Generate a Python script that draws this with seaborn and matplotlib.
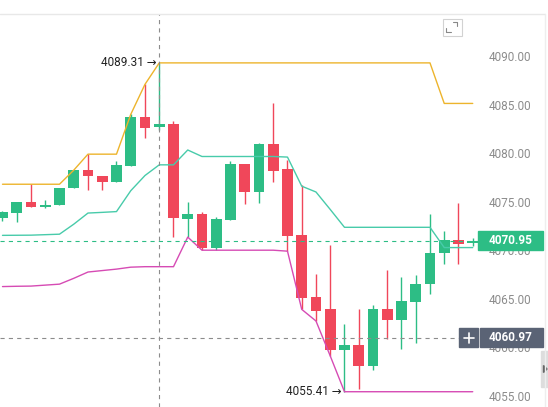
# Candlestick chart with a 20-period price channel (upper / middle / lower)
# library used: seaborn on top of matplotlib

import numpy as np
import pandas as pd
import matplotlib
matplotlib.use("Agg")
import matplotlib.pyplot as plt
import seaborn as sns
from matplotlib.patches import Rectangle, Polygon
from matplotlib.transforms import blended_transform_factory

# candle values
opens = [4073.3, 4073.85, 4074.95, 4074.5, 4074.7, 4076.45, 4078.25, 4077.65, 4077.05, 4078.7,
         4083.75, 4082.65, 4083.0, 4073.25, 4073.7, 4070.2, 4073.15, 4078.85, 4076.0, 4080.9,
         4078.35, 4071.55, 4065.2, 4063.95, 4059.7, 4060.25, 4058.1, 4063.95, 4062.8, 4064.7,
         4066.5, 4069.75, 4071.0, 4070.7]
highs = [4074.0, 4075.0, 4076.8, 4075.15, 4076.45, 4078.25, 4079.9, 4077.7, 4079.2, 4084.0,
         4087.1, 4089.31, 4083.35, 4074.95, 4073.9, 4073.4, 4079.2, 4078.9, 4081.0, 4085.13,
         4079.3, 4076.7, 4067.5, 4070.5, 4062.35, 4063.9, 4064.3, 4067.95, 4067.25, 4067.45,
         4073.7, 4072.0, 4074.9, 4071.3]
lows = [4073.0, 4072.9, 4074.45, 4074.4, 4074.65, 4076.4, 4076.2, 4076.25, 4077.0, 4078.65,
        4081.6, 4082.4, 4071.35, 4071.35, 4070.0, 4070.05, 4073.1, 4074.75, 4074.9, 4077.0,
        4069.9, 4063.9, 4062.7, 4059.1, 4055.41, 4055.7, 4057.7, 4060.85, 4059.8, 4060.4,
        4065.45, 4068.55, 4068.6, 4070.4]
closes = [4073.9, 4074.95, 4074.5, 4074.7, 4076.45, 4078.25, 4077.65, 4077.05, 4078.75, 4083.75,
          4082.6, 4083.0, 4073.3, 4073.7, 4070.2, 4073.2, 4078.85, 4076.0, 4080.9, 4078.2,
          4071.5, 4065.1, 4063.75, 4059.7, 4060.25, 4058.1, 4063.9, 4062.8, 4064.75, 4066.5,
          4069.7, 4071.05, 4070.6, 4070.95]

# channel lines
upper = [4076.8, 4076.8, 4076.8, 4076.8, 4076.8, 4078.25, 4079.9, 4079.9, 4079.9, 4084.0,
         4087.1, 4089.31, 4089.31, 4089.31, 4089.31, 4089.31, 4089.31, 4089.31, 4089.31, 4089.31,
         4089.31, 4089.31, 4089.31, 4089.31, 4089.31, 4089.31, 4089.31, 4089.31, 4089.31, 4089.31,
         4089.31, 4085.13, 4085.13, 4085.13]
middle = [4071.53, 4071.54, 4071.55, 4071.6, 4071.65, 4072.68, 4073.83, 4073.9, 4073.98, 4076.13,
          4077.7, 4078.8, 4078.8, 4080.33, 4079.66, 4079.66, 4079.66, 4079.66, 4079.66, 4079.66,
          4079.6, 4076.6, 4076.0, 4074.2, 4072.36, 4072.36, 4072.36, 4072.36, 4072.36, 4072.36,
          4072.36, 4070.27, 4070.27, 4070.27]
lower = [4066.25, 4066.28, 4066.3, 4066.4, 4066.5, 4067.1, 4067.75, 4067.9, 4068.05, 4068.25,
         4068.3, 4068.3, 4068.3, 4071.35, 4070.0, 4070.0, 4070.0, 4070.0, 4070.0, 4070.0,
         4069.9, 4063.9, 4062.7, 4059.1, 4055.41, 4055.41, 4055.41, 4055.41, 4055.41, 4055.41,
         4055.41, 4055.41, 4055.41, 4055.41]

yticks = [4055, 4060, 4065, 4070, 4075, 4080, 4085, 4090]
last_price = 4070.95
cross_price = 4060.97
cross_idx = 11
max_idx, max_val = 11, 4089.31
min_idx, min_val = 24, 4055.41

GREEN = "#2DBD85"
RED = "#F0475A"
ORANGE = "#EDB42C"
TEAL = "#48CBAA"
MAGENTA = "#D64BB4"
SLATE = "#5A6375"
GRAY = "#8C8C8C"

sns.set_style("white")
plt.rcParams['font.family'] = ['Roboto', 'DejaVu Sans']
plt.rcParams['lines.scale_dashes'] = False

df = pd.DataFrame({'idx': np.arange(len(opens)), 'open': opens, 'high': highs,
                   'low': lows, 'close': closes,
                   'upper': upper, 'middle': middle, 'lower': lower})
df['up'] = df['close'] >= df['open']
df['color'] = np.where(df['up'], GREEN, RED)
df['bottom'] = df[['open', 'close']].min(axis=1)
df['body'] = (df['close'] - df['open']).abs().clip(lower=0.12)

fig = plt.figure(figsize=(5.48, 4.07), dpi=100)
ax = fig.add_axes([0, 0, 480 / 548, 393 / 407])

# candles
ax.vlines(df['idx'], df['low'], df['high'], colors=df['color'], lw=1.0, zorder=2)
ax.bar(df['idx'], df['body'], bottom=df['bottom'], width=0.74, color=df['color'],
       linewidth=0, zorder=2.2)

# channel
sns.lineplot(data=df, x='idx', y='upper', color=ORANGE, lw=1.0, ax=ax, zorder=3)
sns.lineplot(data=df, x='idx', y='middle', color=TEAL, lw=1.0, ax=ax, zorder=3)
sns.lineplot(data=df, x='idx', y='lower', color=MAGENTA, lw=1.0, ax=ax, zorder=3)

ax.set_xlim(-0.175, 33.51)
ax.set_ylim(4053.835, 4094.35)
ax.set_xlabel('')
ax.set_ylabel('')
ax.set_xticks([])
ax.set_yticks(yticks)
ax.set_yticklabels([f"{v:.2f}" for v in yticks])
ax.yaxis.tick_right()
ax.tick_params(axis='y', length=0, pad=6, labelsize=8.5, labelcolor=GRAY)
for s in ax.spines.values():
    s.set_visible(False)

# crosshair and last price lines
ax.axvline(cross_idx, color=GRAY, lw=0.8, ls=(0, (3, 3)), zorder=4)
ax.axhline(cross_price, xmin=0, xmax=459 / 480, color=GRAY, lw=0.8, ls=(0, (3, 3)), zorder=4)
ax.axhline(last_price, xmin=0, xmax=478 / 480, color=GREEN, lw=0.8, ls=(0, (3, 3)), zorder=4)

# high / low markers
ax.annotate(f"{max_val:.2f} →", xy=(max_idx, max_val), xytext=(-2, 0),
            textcoords='offset points', ha='right', va='center', fontsize=8.5, color='#222222')
ax.annotate(f"{min_val:.2f} →", xy=(min_idx, min_val), xytext=(-2, 0),
            textcoords='offset points', ha='right', va='center', fontsize=8.5, color='#222222')

# price tags on the axis
tr = blended_transform_factory(ax.transAxes, ax.transData)
h = 19 / 9.7
ax.add_patch(Rectangle((478 / 480, last_price - h / 2), 65 / 480, h, transform=tr,
                       color=GREEN, clip_on=False, zorder=6))
ax.text(511 / 480, last_price, f"{last_price:.2f}", transform=tr, ha='center', va='center',
        color='white', fontsize=8.5, fontweight='bold', clip_on=False, zorder=7)
ax.add_patch(Rectangle((480 / 480, cross_price - h / 2), 63 / 480, h, transform=tr,
                       color=SLATE, clip_on=False, zorder=6))
ax.add_patch(Rectangle((459 / 480, cross_price - h / 2), 19 / 480, h, transform=tr,
                       color=SLATE, clip_on=False, zorder=6))
ax.text(511 / 480, cross_price, f"{cross_price:.2f}", transform=tr, ha='center', va='center',
        color='white', fontsize=8.5, fontweight='bold', clip_on=False, zorder=7)
ax.plot([463.5 / 480, 473.5 / 480], [cross_price, cross_price], transform=tr, color='white',
        lw=1.2, clip_on=False, zorder=7)
ax.plot([468.5 / 480, 468.5 / 480], [cross_price - 0.52, cross_price + 0.52], transform=tr,
        color='white', lw=1.2, clip_on=False, zorder=7)

# frame bits in pixel coords
ov = fig.add_axes([0, 0, 1, 1], zorder=5)
ov.set_xlim(0, 548)
ov.set_ylim(407, 0)
ov.axis('off')
ov.patch.set_alpha(0)
ov.plot([0, 545], [14, 14], color='#E8E8E8', lw=1.0)
ov.plot([545, 545], [14, 407], color='#EEEEEE', lw=1.0)
ov.add_patch(Rectangle((541, 351), 7, 36, color='#DDDDDD'))
ov.add_patch(Polygon([[543.5, 365.5], [543.5, 372.5], [547, 369]], color='#666666'))
ov.add_patch(Rectangle((443, 19), 19, 16.5, fill=False, ec='#D2D2D2', lw=0.8))
ov.plot([452.5, 457.3, 457.3], [22, 22, 26], color='#888888', lw=0.8)
ov.plot([446, 446, 450.7], [27.5, 32, 32], color='#888888', lw=0.8)

plt.savefig('out.png', dpi=100)
